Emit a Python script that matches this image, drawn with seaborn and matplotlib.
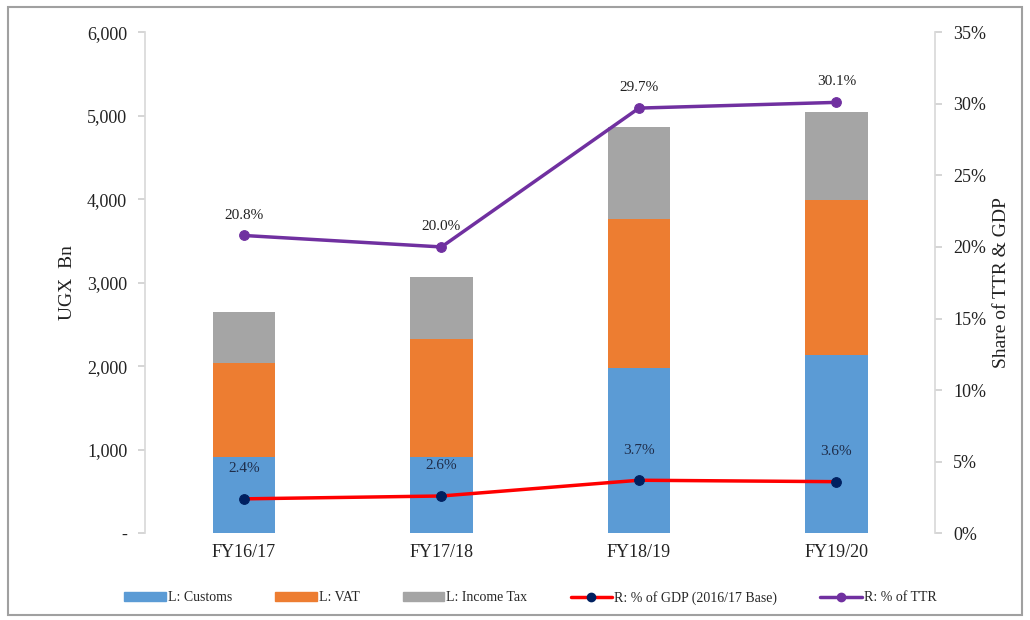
import numpy as np
import matplotlib
matplotlib.use("Agg")
import matplotlib.pyplot as plt
import seaborn as sns
from matplotlib.lines import Line2D
from matplotlib.patches import Patch, Rectangle
from matplotlib.ticker import FuncFormatter, PercentFormatter

years = ["FY16/17", "FY17/18", "FY18/19", "FY19/20"]
customs = [910, 910, 1976, 2132]
vat = [1126, 1413, 1784, 1856]
income_tax = [611, 743, 1102, 1054]
gdp_share = [2.4, 2.6, 3.7, 3.6]
ttr_share = [20.8, 20.0, 29.7, 30.1]

c_customs = "#5B9BD5"
c_vat = "#ED7D31"
c_inc = "#A5A5A5"
c_red = "#FF0000"
c_navy = "#002060"
c_purple = "#7030A0"

sns.set_theme(style="white")
plt.rcParams["font.family"] = ["Liberation Serif", "DejaVu Serif"]

fig = plt.figure(figsize=(10.3, 6.2), dpi=100)
ax = fig.add_axes([0.141, 0.14, 0.767, 0.808])

x = np.arange(len(years))
b1 = np.array(customs)
b2 = b1 + np.array(vat)
w = 0.315
sns.barplot(x=years, y=customs, color=c_customs, width=w, ax=ax, saturation=1, linewidth=0)
sns.barplot(x=years, y=vat, bottom=b1, color=c_vat, width=w, ax=ax, saturation=1, linewidth=0)
sns.barplot(x=years, y=income_tax, bottom=b2, color=c_inc, width=w, ax=ax, saturation=1, linewidth=0)

ax.set_xlim(-0.5, len(years) - 0.5)
ax.set_ylim(0, 6000)
ax.set_yticks(np.arange(0, 6001, 1000))
ax.yaxis.set_major_formatter(FuncFormatter(lambda v, p: "-" if v == 0 else f"{int(v):,}"))
ax.set_ylabel("UGX  Bn", fontsize=14, color="#222222", labelpad=8)
ax.set_xlabel("")
ax.tick_params(axis="x", labelsize=13, colors="#222222", length=0, pad=8)
ax.tick_params(axis="y", labelsize=13, colors="#222222", length=5, color="#D0D0D0", direction="out", left=True, pad=8)

ax2 = ax.twinx()
sns.lineplot(x=x, y=ttr_share, ax=ax2, color=c_purple, lw=2.5, marker="o", markersize=7,
             markeredgecolor=c_purple, markerfacecolor=c_purple, sort=False)
sns.lineplot(x=x, y=gdp_share, ax=ax2, color=c_red, lw=2.5, marker="o", markersize=7,
             markeredgecolor=c_navy, markerfacecolor=c_navy, sort=False)
ax2.set_ylim(0, 35)
ax2.set_yticks(np.arange(0, 36, 5))
ax2.yaxis.set_major_formatter(PercentFormatter(decimals=0))
ax2.tick_params(axis="y", labelsize=13, colors="#222222", length=5, color="#D0D0D0", direction="out", right=True, pad=8)
ax2.set_ylabel("Share of TTR & GDP", fontsize=14, color="#222222", labelpad=5)
ax2.set_xlim(-0.5, len(years) - 0.5)

for xi, v in zip(x, ttr_share):
    ax2.annotate(f"{v:.1f}%", (xi, v), xytext=(0, 10), textcoords="offset points",
                 ha="center", va="bottom", fontsize=11, color="#222222")
for xi, v in zip(x, gdp_share):
    ax2.annotate(f"{v:.1f}%", (xi, v), xytext=(0, 17), textcoords="offset points",
                 ha="center", va="bottom", fontsize=11, color="#1F2D4A")

for a in (ax, ax2):
    for s in ("top", "bottom"):
        a.spines[s].set_visible(False)
    a.spines["left"].set_color("#D9D9D9")
    a.spines["right"].set_color("#D9D9D9")
ax.spines["right"].set_visible(False)
ax2.spines["left"].set_visible(False)

handles = [
    Patch(color=c_customs, label="L: Customs"),
    Patch(color=c_vat, label="L: VAT"),
    Patch(color=c_inc, label="L: Income Tax"),
    Line2D([0], [0], color=c_red, lw=2.5, marker="o", markersize=6,
           markerfacecolor=c_navy, markeredgecolor=c_navy, label="R: % of GDP (2016/17 Base)"),
    Line2D([0], [0], color=c_purple, lw=2.5, marker="o", markersize=6,
           markerfacecolor=c_purple, markeredgecolor=c_purple, label="R: % of TTR"),
]
fig.legend(handles=handles, loc="center", bbox_to_anchor=(0.515, 0.036), ncol=5, frameon=False,
           fontsize=10, handlelength=3.0, handleheight=0.6, columnspacing=3.1, handletextpad=0.15)

fig.patches.append(Rectangle((0.008, 0.008), 0.984, 0.98, transform=fig.transFigure,
                             fill=False, edgecolor="#A0A0A0", lw=1.5))

fig.savefig("out.png", dpi=100)
